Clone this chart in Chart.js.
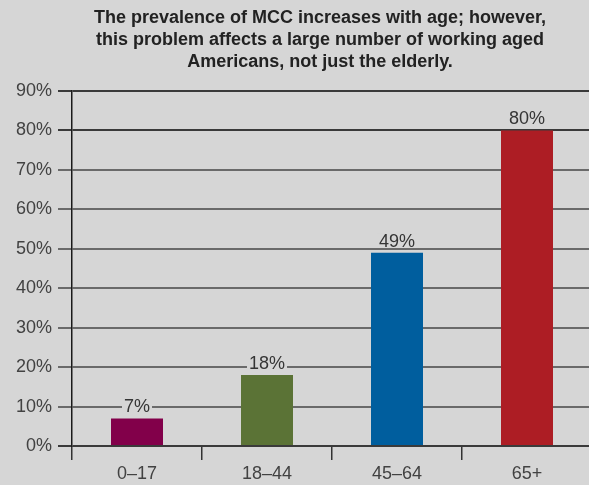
<!DOCTYPE html>
<html>
<head>
<meta charset="utf-8">
<script src="https://cdn.jsdelivr.net/npm/chart.js@4.4.0/dist/chart.umd.min.js"></script>
<style>
html,body{margin:0;padding:0;background:#d6d6d6;overflow:hidden;}
#wrap{width:640px;height:485px;}
</style>
</head>
<body>
<div id="wrap"><canvas id="c" width="640" height="485"></canvas></div>
<script>
const categories = ["0\u201317", "18\u201344", "45\u201364", "65+"];
const prevalence = [7, 18, 49, 80];
const barColors = ["#82004a", "#5b7336", "#005e9e", "#ad1d24"];
const yTicks = [0, 10, 20, 30, 40, 50, 60, 70, 80, 90];
const titleLines = [
  "The prevalence of MCC increases with age; however,",
  "this problem affects a large number of working aged",
  "Americans, not just the elderly."
];

const FONT = "'Liberation Sans', Arial, Helvetica, sans-serif";
const BG = '#d6d6d6';

const labelPlugin = {
  id: 'valueLabels',
  afterDatasetsDraw(chart) {
    const ctx = chart.ctx;
    const meta = chart.getDatasetMeta(0);
    ctx.save();
    ctx.font = "18px " + FONT;
    ctx.textAlign = 'center';
    ctx.textBaseline = 'alphabetic';
    meta.data.forEach((bar, i) => {
      const txt = prevalence[i] + '%';
      const w = ctx.measureText(txt).width;
      const base = bar.y - 6;
      ctx.fillStyle = BG;
      ctx.fillRect(bar.x - w / 2 - 2, base - 13, w + 4, 13);
      ctx.fillStyle = '#353535';
      ctx.fillText(txt, bar.x, base);
    });
    ctx.restore();
  }
};

const bgPlugin = {
  id: 'bg',
  beforeDraw(chart) {
    const ctx = chart.ctx;
    ctx.save();
    ctx.fillStyle = BG;
    ctx.fillRect(0, 0, chart.width, chart.height);
    ctx.restore();
  }
};

new Chart(document.getElementById('c'), {
  type: 'bar',
  data: {
    labels: categories,
    datasets: [{
      data: prevalence,
      backgroundColor: barColors,
      borderWidth: 0,
      barPercentage: 0.8,
      categoryPercentage: 0.5,
      yAxisID: 'y'
    }]
  },
  options: {
    responsive: false,
    animation: false,
    layout: { padding: 0 },
    plugins: {
      legend: { display: false },
      tooltip: { enabled: false },
      title: {
        display: true,
        text: titleLines,
        color: '#222222',
        font: { family: FONT, size: 18, weight: 'bold', lineHeight: 1.222 },
        padding: { top: 7, bottom: 18 }
      }
    },
    scales: {
      x: {
        afterFit(scale) { scale.height = 39; },
        grid: {
          offset: true,
          drawOnChartArea: false,
          drawTicks: true,
          tickLength: 14,
          color: '#333333',
          lineWidth: 1.5
        },
        border: { display: false },
        ticks: {
          color: '#424242',
          font: { family: FONT, size: 18 },
          padding: 3
        }
      },
      y: {
        min: 0,
        max: 90,
        afterFit(scale) { scale.width = 72; },
        afterBuildTicks(axis) { axis.ticks = yTicks.map(v => ({ value: v })); },
        grid: {
          color: ctx => (ctx.tick && (ctx.tick.value === 0 || ctx.tick.value >= 80)) ? '#3a3a3a' : '#6a6a6a',
          lineWidth: 2,
          tickLength: 14,
          drawTicks: true
        },
        border: { display: true, color: '#1a1a1a', width: 1.5 },
        ticks: {
          color: '#424242',
          font: { family: FONT, size: 18 },
          padding: 6,
          callback: v => v + '%'
        }
      },
      spacer: {
        type: 'linear',
        position: 'right',
        min: 0,
        max: 90,
        afterFit(scale) { scale.width = 48; },
        grid: { display: false, drawTicks: false },
        border: { display: false },
        ticks: { display: false }
      }
    }
  },
  plugins: [bgPlugin, labelPlugin]
});
</script>
</body>
</html>
